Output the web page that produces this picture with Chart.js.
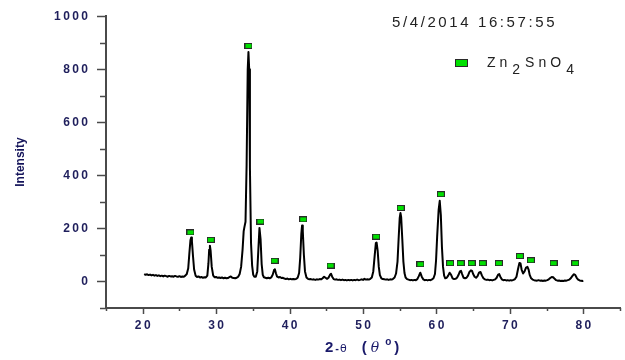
<!DOCTYPE html>
<html>
<head>
<meta charset="utf-8">
<script src="https://cdn.jsdelivr.net/npm/chart.js@4.4.1/dist/chart.umd.min.js"></script>
<style>
  html, body { margin: 0; padding: 0; background: #fff; }
  canvas { display: block; }
</style>
</head>
<body>
<canvas id="xrd" width="625" height="360"></canvas>
<script>
// XRD pattern, 2-theta (deg) vs intensity
const twoTheta = [
  20.2, 20.4, 20.6, 20.8, 21.0, 21.2, 21.4, 21.6, 21.8, 22.0, 22.2, 22.4, 22.6, 22.8, 23.0, 23.2, 23.4, 23.6, 23.8, 24.0,
  24.2, 24.4, 24.6, 24.8, 25.0, 25.2, 25.4, 25.6, 25.8, 26.0, 26.2, 26.35, 26.5, 26.6, 26.7, 26.85, 27.0, 27.2, 27.4, 27.6,
  27.8, 28.0, 28.2, 28.4, 28.6, 28.8, 28.95, 29.05, 29.15, 29.25, 29.4, 29.6, 29.8, 30.0, 30.2, 30.4, 30.6, 30.8, 31.0, 31.2,
  31.4, 31.6, 31.8, 32.0, 32.2, 32.4, 32.6, 32.8, 33.0, 33.2, 33.4, 33.6, 33.75, 33.85, 34.0, 34.15, 34.3, 34.4, 34.5, 34.6,
  34.75, 34.9, 35.05, 35.2, 35.4, 35.6, 35.75, 35.9, 36.05, 36.2, 36.35, 36.5, 36.7, 36.9, 37.1, 37.3, 37.5, 37.7, 37.9, 38.0,
  38.15, 38.3, 38.5, 38.7, 38.9, 39.1, 39.3, 39.5, 39.7, 39.9, 40.1, 40.3, 40.5, 40.7, 40.9, 41.1, 41.3, 41.45, 41.6, 41.7,
  41.8, 41.95, 42.1, 42.3, 42.5, 42.7, 42.9, 43.1, 43.3, 43.5, 43.7, 43.9, 44.1, 44.3, 44.5, 44.7, 44.9, 45.1, 45.3, 45.5,
  45.65, 45.8, 46.0, 46.2, 46.4, 46.6, 46.8, 47.0, 47.2, 47.4, 47.6, 47.8, 48.0, 48.2, 48.4, 48.6, 48.8, 49.0, 49.2, 49.4,
  49.6, 49.8, 50.0, 50.2, 50.4, 50.6, 50.8, 51.0, 51.2, 51.4, 51.6, 51.75, 51.85, 52.0, 52.15, 52.3, 52.5, 52.7, 52.9, 53.1,
  53.3, 53.5, 53.7, 53.9, 54.1, 54.3, 54.5, 54.7, 54.85, 55.0, 55.1, 55.2, 55.35, 55.5, 55.65, 55.8, 56.0, 56.2, 56.4, 56.6,
  56.8, 57.0, 57.2, 57.4, 57.6, 57.8, 58.0, 58.2, 58.4, 58.6, 58.8, 59.0, 59.2, 59.4, 59.6, 59.8, 59.95, 60.1, 60.3, 60.45,
  60.6, 60.75, 60.9, 61.05, 61.2, 61.4, 61.6, 61.8, 62.0, 62.2, 62.4, 62.6, 62.8, 63.0, 63.2, 63.35, 63.5, 63.7, 63.9, 64.1,
  64.3, 64.5, 64.7, 64.85, 65.0, 65.2, 65.4, 65.6, 65.8, 66.0, 66.2, 66.4, 66.6, 66.8, 67.0, 67.2, 67.4, 67.6, 67.8, 68.0,
  68.2, 68.4, 68.55, 68.7, 68.9, 69.1, 69.3, 69.5, 69.7, 69.9, 70.1, 70.3, 70.5, 70.7, 70.9, 71.1, 71.3, 71.45, 71.6, 71.8,
  72.0, 72.2, 72.4, 72.55, 72.7, 72.9, 73.1, 73.3, 73.5, 73.7, 73.9, 74.1, 74.3, 74.5, 74.7, 74.9, 75.1, 75.3, 75.5, 75.7,
  75.9, 76.1, 76.3, 76.5, 76.7, 76.9, 77.1, 77.3, 77.5, 77.7, 77.9, 78.1, 78.3, 78.5, 78.7, 78.9, 79.1, 79.3, 79.5, 79.7,
  79.9, 80.0
];
const intensity = [
  28, 25, 27, 24, 26, 23, 25, 22, 24, 21, 23, 20, 22, 19, 22, 20, 18, 21, 19, 20,
  18, 21, 19, 18, 20, 17, 19, 18, 22, 28, 50, 105, 155, 166, 152, 95, 45, 22, 17, 19,
  15, 17, 14, 16, 15, 22, 68, 120, 135, 115, 55, 22, 16, 17, 14, 15, 13, 15, 12, 14,
  12, 13, 16, 19, 14, 13, 12, 14, 18, 28, 55, 120, 190, 205, 225, 440, 800, 865, 800, 430,
  145, 60, 25, 18, 18, 38, 120, 202, 160, 65, 25, 16, 14, 12, 14, 12, 15, 25, 44, 46,
  30, 18, 15, 17, 13, 14, 11, 9, 11, 8, 10, 8, 9, 8, 10, 14, 32, 90, 180, 211,
  190, 100, 38, 15, 10, 8, 9, 7, 8, 6, 8, 7, 9, 8, 12, 18, 14, 10, 14, 25,
  29, 18, 9, 7, 8, 6, 7, 5, 7, 5, 6, 4, 6, 5, 6, 4, 6, 5, 7, 5,
  6, 8, 6, 10, 7, 8, 7, 10, 15, 38, 100, 145, 147, 115, 55, 24, 12, 9, 8, 7,
  8, 6, 8, 7, 10, 15, 30, 75, 160, 240, 258, 242, 160, 75, 32, 15, 9, 7, 5, 6,
  4, 6, 5, 9, 20, 33, 18, 8, 5, 6, 4, 6, 5, 8, 12, 28, 80, 170, 270, 304,
  250, 130, 55, 22, 12, 14, 22, 33, 25, 12, 9, 10, 14, 24, 38, 40, 28, 14, 12, 14,
  22, 36, 42, 40, 28, 18, 14, 20, 33, 36, 22, 12, 8, 6, 7, 5, 6, 4, 6, 8,
  14, 26, 28, 18, 8, 5, 6, 4, 5, 3, 5, 4, 6, 9, 18, 45, 70, 68, 45, 30,
  38, 52, 55, 45, 25, 12, 7, 5, 4, 3, 5, 3, 4, 2, 4, 3, 5, 8, 13, 17,
  16, 10, 5, 3, 4, 2, 3, 2, 4, 3, 5, 7, 12, 20, 27, 25, 14, 7, 4, 3,
  2, 3
];

// Zn2SnO4 reflection markers
const markerTheta = [26.5, 29.27, 34.4, 36.04, 37.95, 41.86, 45.58, 51.8, 55.13, 57.82, 60.6, 61.86, 63.3, 64.8, 66.3, 68.5, 71.36, 72.86, 75.96, 78.9];
const markerY = [185, 157, 888, 226, 78, 234, 60, 169, 277, 65, 329, 69, 69, 69, 69, 69, 96, 80, 69, 69];

const xMin = 15, xMax = 85, xStep = 5;
const yMin = -100, yMax = 1000, yStep = 100;
const timeStamp = "5/4/2014 16:57:55";
const yTitle = "Intensity";

const labelColor = "#1f1f5c";
const axisColor = "#4a4a4a";

function spaced(v) {
  return String(v).split("").join("\u2009");
}

function makeMarker(w, h) {
  const c = document.createElement("canvas");
  c.width = w;
  c.height = h;
  const g = c.getContext("2d");
  g.fillStyle = "#00e000";
  g.fillRect(0, 0, w, h);
  g.strokeStyle = "#2a2a2a";
  g.lineWidth = 1;
  g.strokeRect(0.5, 0.5, w - 1, h - 1);
  return c;
}
const markerImg = makeMarker(8, 6);
const legendImg = makeMarker(13, 8);

// minor/major ticks, titles, timestamp and legend
const decor = {
  id: "decor",
  afterDraw(chart) {
    const ctx = chart.ctx;
    const xs = chart.scales.x, ys = chart.scales.y;
    const area = chart.chartArea;
    ctx.save();
    ctx.strokeStyle = axisColor;
    ctx.lineWidth = 1.5;
    xs.ticks.forEach(t => {
      const px = Math.round(xs.getPixelForValue(t.value)) + 0.5;
      const len = t.value % 10 === 0 ? 6 : 3;
      ctx.beginPath();
      ctx.moveTo(px, area.bottom);
      ctx.lineTo(px, area.bottom + len);
      ctx.stroke();
    });
    ys.ticks.forEach(t => {
      const py = Math.round(ys.getPixelForValue(t.value)) + 0.5;
      const len = t.value % 200 === 0 ? 9 : 6;
      ctx.beginPath();
      ctx.moveTo(area.left, py);
      ctx.lineTo(area.left - len, py);
      ctx.stroke();
    });

    // y title
    ctx.save();
    ctx.translate(21, (area.top + area.bottom) / 2);
    ctx.rotate(-Math.PI / 2);
    ctx.fillStyle = "#14145a";
    ctx.font = "bold 12px 'Liberation Sans', Arial, sans-serif";
    ctx.textAlign = "center";
    ctx.textBaseline = "middle";
    ctx.fillText(yTitle, 0, 0);
    ctx.restore();

    // x title: 2-θ (θ °)
    ctx.fillStyle = "#1a1a6a";
    ctx.textBaseline = "alphabetic";
    ctx.textAlign = "left";
    let x = 325;
    const base = 352;
    const parts = [
      { t: "2", f: "bold 15px 'Liberation Sans', Arial, sans-serif", dy: 0, gap: 2 },
      { t: "-", f: "bold 11px 'Liberation Sans', Arial, sans-serif", dy: 0, gap: 1 },
      { t: "θ", f: "11px 'DejaVu Sans', sans-serif", dy: 0, gap: 15 },
      { t: "(", f: "bold 15px 'Liberation Sans', Arial, sans-serif", dy: 0, gap: 4 },
      { t: "θ", f: "italic 14px 'DejaVu Serif', serif", dy: 0, gap: 6 },
      { t: "o", f: "bold 10px 'Liberation Sans', Arial, sans-serif", dy: -7, gap: 3 },
      { t: ")", f: "bold 15px 'Liberation Sans', Arial, sans-serif", dy: 0, gap: 0 }
    ];
    parts.forEach(p => {
      ctx.font = p.f;
      ctx.fillText(p.t, x, base + p.dy);
      x += ctx.measureText(p.t).width + p.gap;
    });

    // timestamp
    ctx.fillStyle = "#222";
    ctx.font = "15px 'Liberation Sans', Arial, sans-serif";
    ctx.letterSpacing = "2.6px";
    ctx.fillText(timeStamp, 392, 27);

    // legend
    ctx.drawImage(legendImg, 455, 59);
    ctx.font = "14px 'Liberation Sans', Arial, sans-serif";
    ctx.letterSpacing = "4px";
    let lx = 487;
    const legendParts = [
      { t: "Zn", dy: 0 }, { t: "2", dy: 7 }, { t: "SnO", dy: 0 }, { t: "4", dy: 7 }
    ];
    legendParts.forEach(p => {
      ctx.fillText(p.t, lx, 67 + p.dy);
      lx += ctx.measureText(p.t).width + 1;
    });
    ctx.restore();
  }
};

const canvas = document.getElementById("xrd");
const ctx = canvas.getContext("2d");

const chart = new Chart(ctx, {
  type: "scatter",
  data: {
    datasets: [
      {
        label: "pattern",
        data: twoTheta.map((t, i) => ({ x: t, y: intensity[i] })),
        showLine: true,
        borderColor: "#000",
        borderWidth: 2,
        borderJoinStyle: "round",
        pointRadius: 0,
        tension: 0,
        order: 2
      },
      {
        label: "Zn2SnO4",
        data: markerTheta.map((t, i) => ({ x: t, y: markerY[i] })),
        showLine: false,
        pointStyle: markerImg,
        pointRadius: 4,
        order: 1
      }
    ]
  },
  options: {
    responsive: false,
    animation: false,
    layout: { padding: { top: 16, right: 5, left: 0, bottom: 0 } },
    plugins: {
      legend: { display: false },
      tooltip: { enabled: false }
    },
    scales: {
      x: {
        type: "linear",
        min: xMin,
        max: xMax,
        ticks: {
          stepSize: xStep,
          autoSkip: false,
          maxRotation: 0,
          padding: 4,
          color: labelColor,
          font: { family: "'Liberation Sans', Arial, sans-serif", size: 12, weight: "bold" },
          callback: v => (v % 10 === 0 && v >= 20 && v <= 80 ? spaced(v) : "")
        },
        grid: { drawOnChartArea: false, tickLength: 6, tickColor: "rgba(0,0,0,0)" },
        border: { color: axisColor, width: 2 },
        afterFit: s => { s.height = 52; }
      },
      y: {
        min: yMin,
        max: yMax,
        ticks: {
          stepSize: yStep,
          padding: 9,
          color: labelColor,
          font: { family: "'Liberation Sans', Arial, sans-serif", size: 12, weight: "bold" },
          callback: v => (v % 200 === 0 && v >= 0 ? spaced(v) : "")
        },
        grid: { drawOnChartArea: false, tickLength: 9, tickColor: "rgba(0,0,0,0)" },
        border: { color: axisColor, width: 2 },
        afterFit: s => { s.width = 106; }
      }
    }
  },
  plugins: [decor]
});
</script>
</body>
</html>
